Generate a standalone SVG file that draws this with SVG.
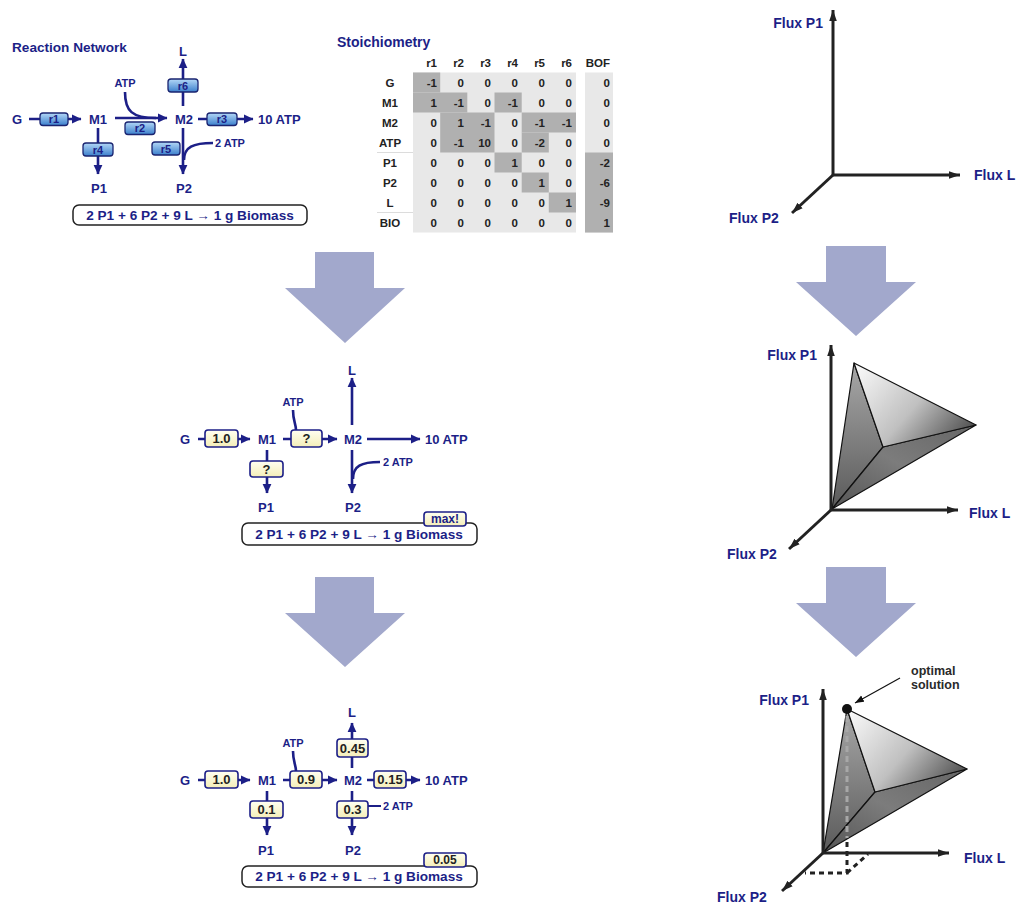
<svg xmlns="http://www.w3.org/2000/svg" width="1016" height="904" viewBox="0 0 1016 904">
<defs>
<style>
.t{font-family:"Liberation Sans",Arial,sans-serif;font-weight:bold;fill:#1c1f87;dominant-baseline:central}
.n{font-size:13px}
.bt{font-size:13.6px}
.s{font-size:11px}
.ax{font-size:14px}
.tb{font-family:"Liberation Sans",Arial,sans-serif;font-weight:bold;font-size:11.5px;fill:#222;dominant-baseline:central}
.num{text-anchor:end}
.c{text-anchor:middle}
.e{text-anchor:end}
.ln{stroke:#1c1f87;stroke-width:2.6;fill:none}
.arr{marker-end:url(#ah)}
.bb{fill:url(#blue);stroke:#1a2470;stroke-width:1.3}
.yb{fill:url(#yel);stroke:#1c1f87;stroke-width:1.6}
.bio{fill:#fff;stroke:#222;stroke-width:1.5}
.axis{stroke:#222;stroke-width:3;fill:none;marker-end:url(#axh)}
.big{fill:#a2a8cc}
.dk{fill:#b0b0b0}
.lt{fill:#e8e8e8}
.edge{stroke:#111;stroke-width:1.2;stroke-linejoin:round}
</style>
<linearGradient id="blue" x1="0" y1="0" x2="0" y2="1">
<stop offset="0" stop-color="#b4d8f7"/>
<stop offset="1" stop-color="#3b7fcc"/>
</linearGradient>
<linearGradient id="yel" x1="0" y1="0" x2="0" y2="1">
<stop offset="0" stop-color="#fffff2"/>
<stop offset="1" stop-color="#f4eeb8"/>
</linearGradient>
<linearGradient id="topf" x1="0" y1="0.1" x2="1" y2="0.7">
<stop offset="0" stop-color="#f8f8f8"/>
<stop offset="0.55" stop-color="#c0c0c0"/>
<stop offset="1" stop-color="#555"/>
</linearGradient>
<linearGradient id="leftf" x1="0" y1="0" x2="0" y2="1">
<stop offset="0" stop-color="#a8a8a8"/>
<stop offset="1" stop-color="#5a5a5a"/>
</linearGradient>
<linearGradient id="botf" x1="1" y1="0" x2="0" y2="1">
<stop offset="0" stop-color="#666"/>
<stop offset="0.5" stop-color="#7c7c7c"/>
<stop offset="1" stop-color="#555"/>
</linearGradient>
<marker id="ah" markerUnits="userSpaceOnUse" markerWidth="10" markerHeight="10" refX="9" refY="5" orient="auto">
<path d="M0,0.6 L9.5,5 L0,9.4 z" fill="#1c1f87"/>
</marker>
<marker id="axh" markerUnits="userSpaceOnUse" markerWidth="12" markerHeight="10" refX="11" refY="5" orient="auto">
<path d="M0,1.2 L11,5 L0,8.8 z" fill="#222"/>
</marker>
<marker id="th" markerUnits="userSpaceOnUse" markerWidth="10" markerHeight="8" refX="9" refY="4" orient="auto">
<path d="M0,0.5 L9,4 L0,7.5 z" fill="#111"/>
</marker>
</defs>
<rect width="1016" height="904" fill="#fff"/>

<!-- big arrows -->
<g id="bigArrows">
<polygon class="big" points="315,252 374,252 374,288 405,288 345,343 285,288 315,288"/>
<polygon class="big" points="315,577 374,577 374,613 405,613 345,667 285,613 315,613"/>
<polygon class="big" points="826,246 886,246 886,282 916,282 856,336 796,282 826,282"/>
<polygon class="big" points="826,567 886,567 886,603 916,603 856,657 796,603 826,603"/>
</g>

<!-- ===== Top network ===== -->
<text class="t bt" x="12" y="47">Reaction Network</text>
<g id="net1-connectors">
<path class="ln arr" d="M29,119 L81,119"/>
<path class="ln arr" d="M115,118 L167,118"/>
<path class="ln" d="M125,92 C125,111 132,118 156,118"/>
<path class="ln arr" d="M183,106 L183,59"/>
<path class="ln arr" d="M198,119 L253,119"/>
<path class="ln arr" d="M98,128 L98,174"/>
<path class="ln arr" d="M183,128 L183,174"/>
<path class="ln" d="M213,143 C193,143 184,147 184,160"/>
</g>
<g id="net1-G"><text class="t n c" x="17" y="119">G</text></g>
<g id="net1-M1"><text class="t n c" x="98" y="119">M1</text></g>
<g id="net1-M2"><text class="t n c" x="184" y="119">M2</text></g>
<g id="net1-L"><text class="t n c" x="183" y="51">L</text></g>
<g id="net1-ATPout"><text class="t n" x="258" y="119">10 ATP</text></g>
<g id="net1-P1"><text class="t n c" x="99" y="188">P1</text></g>
<g id="net1-P2"><text class="t n c" x="184" y="188">P2</text></g>
<g id="net1-ATPin"><text class="t s c" x="125" y="83">ATP</text></g>
<g id="net1-2ATP"><text class="t s" x="215" y="143">2 ATP</text></g>
<g id="net1-r1"><rect class="bb" x="40" y="113" width="28" height="12.5" rx="3"/><text class="t s c" x="54" y="119.3">r1</text></g>
<g id="net1-r2"><rect class="bb" x="125" y="122" width="30" height="12.5" rx="3"/><text class="t s c" x="140" y="128.3">r2</text></g>
<g id="net1-r3"><rect class="bb" x="207" y="113" width="30" height="12.5" rx="3"/><text class="t s c" x="222" y="119.3">r3</text></g>
<g id="net1-r4"><rect class="bb" x="83" y="143" width="30" height="13" rx="3"/><text class="t s c" x="98" y="149.5">r4</text></g>
<g id="net1-r5"><rect class="bb" x="152" y="142" width="28" height="13" rx="3"/><text class="t s c" x="166" y="148.5">r5</text></g>
<g id="net1-r6"><rect class="bb" x="168" y="79" width="30" height="13" rx="3"/><text class="t s c" x="183" y="85.5">r6</text></g>
<g id="net1-biomass"><rect class="bio" x="73" y="205" width="234" height="20" rx="6"/><text class="t bt c" x="190" y="215">2 P1 + 6 P2 + 9 L → 1 g Biomass</text></g>

<!-- ===== Stoichiometry ===== -->
<g id="stoich">
<text class="t" x="337" y="42" style="font-size:14px">Stoichiometry</text>
<rect class="lt" x="413" y="72.5" width="163" height="160"/>
<rect class="lt" x="585" y="72.5" width="28" height="160"/>
<rect class="dk" x="413" y="72.5" width="27.2" height="20"/>
<rect class="dk" x="413" y="92.5" width="54.3" height="20"/>
<rect class="dk" x="494.5" y="92.5" width="27.2" height="20"/>
<rect class="dk" x="440.2" y="112.5" width="54.3" height="40"/>
<rect class="dk" x="521.7" y="112.5" width="54.3" height="20"/>
<rect class="dk" x="521.7" y="132.5" width="27.1" height="20"/>
<rect class="dk" x="494.5" y="152.5" width="27.2" height="20"/>
<rect class="dk" x="521.7" y="172.5" width="27.1" height="20"/>
<rect class="dk" x="548.8" y="192.5" width="27.2" height="20"/>
<rect class="dk" x="585" y="152.5" width="28" height="80"/>
<line x1="377" y1="152.5" x2="413" y2="152.5" stroke="#dcdcdc" stroke-width="1"/>
<line x1="377" y1="212.5" x2="413" y2="212.5" stroke="#dcdcdc" stroke-width="1"/>
<g class="tb num">
<text x="437" y="63">r1</text><text x="464" y="63">r2</text><text x="491" y="63">r3</text><text x="518" y="63">r4</text><text x="545" y="63">r5</text><text x="572" y="63">r6</text><text x="610" y="63">BOF</text>
</g>
<g class="tb c">
<text x="390" y="82.5">G</text><text x="390" y="102.5">M1</text><text x="390" y="122.5">M2</text><text x="390" y="142.5">ATP</text><text x="390" y="162.5">P1</text><text x="390" y="182.5">P2</text><text x="390" y="202.5">L</text><text x="390" y="222.5">BIO</text>
</g>
<g class="tb num">
<text x="437" y="82.5">-1</text><text x="464" y="82.5">0</text><text x="491" y="82.5">0</text><text x="518" y="82.5">0</text><text x="545" y="82.5">0</text><text x="572" y="82.5">0</text><text x="610" y="82.5">0</text>
<text x="437" y="102.5">1</text><text x="464" y="102.5">-1</text><text x="491" y="102.5">0</text><text x="518" y="102.5">-1</text><text x="545" y="102.5">0</text><text x="572" y="102.5">0</text><text x="610" y="102.5">0</text>
<text x="437" y="122.5">0</text><text x="464" y="122.5">1</text><text x="491" y="122.5">-1</text><text x="518" y="122.5">0</text><text x="545" y="122.5">-1</text><text x="572" y="122.5">-1</text><text x="610" y="122.5">0</text>
<text x="437" y="142.5">0</text><text x="464" y="142.5">-1</text><text x="491" y="142.5">10</text><text x="518" y="142.5">0</text><text x="545" y="142.5">-2</text><text x="572" y="142.5">0</text><text x="610" y="142.5">0</text>
<text x="437" y="162.5">0</text><text x="464" y="162.5">0</text><text x="491" y="162.5">0</text><text x="518" y="162.5">1</text><text x="545" y="162.5">0</text><text x="572" y="162.5">0</text><text x="610" y="162.5">-2</text>
<text x="437" y="182.5">0</text><text x="464" y="182.5">0</text><text x="491" y="182.5">0</text><text x="518" y="182.5">0</text><text x="545" y="182.5">1</text><text x="572" y="182.5">0</text><text x="610" y="182.5">-6</text>
<text x="437" y="202.5">0</text><text x="464" y="202.5">0</text><text x="491" y="202.5">0</text><text x="518" y="202.5">0</text><text x="545" y="202.5">0</text><text x="572" y="202.5">1</text><text x="610" y="202.5">-9</text>
<text x="437" y="222.5">0</text><text x="464" y="222.5">0</text><text x="491" y="222.5">0</text><text x="518" y="222.5">0</text><text x="545" y="222.5">0</text><text x="572" y="222.5">0</text><text x="610" y="222.5">1</text>
</g>
</g>

<!-- ===== Middle network ===== -->
<g id="net2-connectors">
<path class="ln arr" d="M198,439 L250,439"/>
<path class="ln arr" d="M283,439 L337,439"/>
<path class="ln" d="M293,410 C293,421 296,424 296,430"/>
<path class="ln arr" d="M352,425 L352,378"/>
<path class="ln arr" d="M367,439 L420,439"/>
<path class="ln arr" d="M267,450 L267,493"/>
<path class="ln arr" d="M352,450 L352,493"/>
<path class="ln" d="M380,462 C361,462 353,466 353,479"/>
</g>
<g id="net2-G"><text class="t n c" x="185" y="439">G</text></g>
<g id="net2-M1"><text class="t n c" x="267" y="439">M1</text></g>
<g id="net2-M2"><text class="t n c" x="353" y="439">M2</text></g>
<g id="net2-L"><text class="t n c" x="352" y="370">L</text></g>
<g id="net2-ATPout"><text class="t n" x="425" y="439">10 ATP</text></g>
<g id="net2-P1"><text class="t n c" x="266" y="507">P1</text></g>
<g id="net2-P2"><text class="t n c" x="353" y="507">P2</text></g>
<g id="net2-ATPin"><text class="t s c" x="293" y="402">ATP</text></g>
<g id="net2-2ATP"><text class="t s" x="383" y="462">2 ATP</text></g>
<g id="net2-v1"><rect class="yb" x="205" y="430" width="33" height="17" rx="3"/><text class="t n c" x="221.5" y="438.5" style="fill:#222">1.0</text></g>
<g id="net2-v2"><rect class="yb" x="291" y="430" width="31" height="17" rx="3"/><text class="t n c" x="306.5" y="438.5" style="fill:#222">?</text></g>
<g id="net2-v4"><rect class="yb" x="250" y="461" width="33" height="16" rx="3"/><text class="t n c" x="266.5" y="469" style="fill:#222">?</text></g>
<g id="net2-biomass"><rect class="bio" x="242" y="523" width="235" height="22" rx="6"/><text class="t bt c" x="359" y="534">2 P1 + 6 P2 + 9 L → 1 g Biomass</text></g>
<g id="net2-max"><rect class="yb" x="424" y="512" width="42" height="14" rx="3"/><text class="t c" x="445" y="519" style="font-size:12px">max!</text></g>

<!-- ===== Bottom network ===== -->
<g id="net3-connectors">
<path class="ln arr" d="M198,780 L250,780"/>
<path class="ln arr" d="M283,780 L337,780"/>
<path class="ln" d="M293,751 C293,762 296,765 296,771"/>
<path class="ln arr" d="M352,768 L352,723"/>
<path class="ln arr" d="M367,780 L420,780"/>
<path class="ln arr" d="M267,791 L267,835"/>
<path class="ln arr" d="M352,791 L352,835"/>
<path class="ln" d="M368,806 L381,806" style="stroke-width:2"/>
</g>
<g id="net3-G"><text class="t n c" x="185" y="780">G</text></g>
<g id="net3-M1"><text class="t n c" x="267" y="780">M1</text></g>
<g id="net3-M2"><text class="t n c" x="353" y="780">M2</text></g>
<g id="net3-L"><text class="t n c" x="352" y="712">L</text></g>
<g id="net3-ATPout"><text class="t n" x="425" y="780">10 ATP</text></g>
<g id="net3-P1"><text class="t n c" x="266" y="850">P1</text></g>
<g id="net3-P2"><text class="t n c" x="353" y="850">P2</text></g>
<g id="net3-ATPin"><text class="t s c" x="293" y="743">ATP</text></g>
<g id="net3-2ATP"><text class="t s" x="383" y="806">2 ATP</text></g>
<g id="net3-v1"><rect class="yb" x="205" y="771" width="33" height="17" rx="3"/><text class="t n c" x="221.5" y="779.5" style="fill:#222">1.0</text></g>
<g id="net3-v2"><rect class="yb" x="290" y="771" width="32" height="17" rx="3"/><text class="t n c" x="306" y="779.5" style="fill:#222">0.9</text></g>
<g id="net3-v3"><rect class="yb" x="374" y="771" width="32" height="17" rx="3"/><text class="t n c" x="390" y="779.5" style="fill:#222">0.15</text></g>
<g id="net3-v6"><rect class="yb" x="337" y="739" width="31" height="18" rx="3"/><text class="t n c" x="352.5" y="748" style="fill:#222">0.45</text></g>
<g id="net3-v4"><rect class="yb" x="250" y="801" width="33" height="17" rx="3"/><text class="t n c" x="266.5" y="809.5" style="fill:#222">0.1</text></g>
<g id="net3-v5"><rect class="yb" x="337" y="801" width="31" height="17" rx="3"/><text class="t n c" x="352.5" y="809.5" style="fill:#222">0.3</text></g>
<g id="net3-biomass"><rect class="bio" x="242" y="866" width="235" height="21" rx="6"/><text class="t bt c" x="359" y="876.5">2 P1 + 6 P2 + 9 L → 1 g Biomass</text></g>
<g id="net3-obj"><rect class="yb" x="424" y="853" width="42" height="14" rx="3"/><text class="t c" x="445" y="860" style="font-size:12px;fill:#222">0.05</text></g>

<!-- ===== Right: axes 1 ===== -->
<g id="plot1">
<path class="axis" d="M833,175 L833,10"/>
<path class="axis" d="M833,175 L960,175"/>
<path class="axis" d="M833,175 L792,213"/>
<text class="t ax e" x="823" y="23">Flux P1</text>
<text class="t ax" x="974" y="175">Flux L</text>
<text class="t ax" x="729" y="218">Flux P2</text>
</g>

<!-- ===== Right: axes 2 ===== -->
<g id="plot2">
<polygon points="854,363 883,447 832,509" fill="url(#leftf)" class="edge"/>
<polygon points="883,447 976,425 832,509" fill="url(#botf)" class="edge"/>
<polygon points="854,363 976,425 883,447" fill="url(#topf)" class="edge"/>
<path class="axis" d="M831,510 L831,345"/>
<path class="axis" d="M831,510 L958,510"/>
<path class="axis" d="M831,510 L789,549"/>
<text class="t ax e" x="817" y="355">Flux P1</text>
<text class="t ax" x="969" y="513">Flux L</text>
<text class="t ax" x="727" y="554">Flux P2</text>
</g>

<!-- ===== Right: axes 3 ===== -->
<g id="plot3">
<polygon points="847,709 875,792 823,853" fill="url(#leftf)" class="edge"/>
<polygon points="875,792 967,769 823,853" fill="url(#botf)" class="edge"/>
<polygon points="847,709 967,769 875,792" fill="url(#topf)" class="edge"/>
<path d="M847,716 L847,838" stroke="#a8a8a8" stroke-width="3" stroke-dasharray="6,4" fill="none"/>
<path d="M847,842 L847,873 L805,873" stroke="#222" stroke-width="3" stroke-dasharray="5,4" fill="none"/>
<path d="M847,873 L868,854" stroke="#222" stroke-width="3" stroke-dasharray="5,4" fill="none"/>
<path class="axis" d="M823,853 L823,689"/>
<path class="axis" d="M823,853 L949,853"/>
<path class="axis" d="M823,853 L782,891"/>
<circle cx="847" cy="709" r="5" fill="#111"/>
<path d="M900,678 L855,703" stroke="#111" stroke-width="1.2" fill="none" marker-end="url(#th)"/>
<text class="t ax e" x="809" y="700">Flux P1</text>
<text class="t ax" x="964" y="858">Flux L</text>
<text class="t ax" x="717" y="897">Flux P2</text>
<text x="911" y="671" style="font-family:'Liberation Sans',Arial,sans-serif;font-weight:bold;font-size:12.5px;fill:#2a2a2a;dominant-baseline:central">optimal</text>
<text x="911" y="685" style="font-family:'Liberation Sans',Arial,sans-serif;font-weight:bold;font-size:12.5px;fill:#2a2a2a;dominant-baseline:central">solution</text>
</g>
</svg>
